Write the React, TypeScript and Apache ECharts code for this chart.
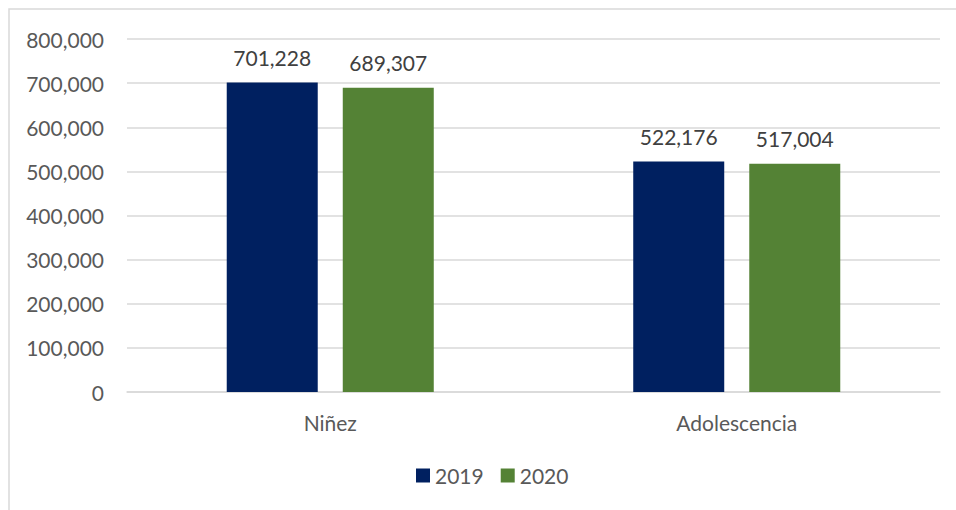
import React, { useEffect, useRef } from "react";
import * as echarts from "echarts";

const categories = ["Niñez", "Adolescencia"];
const seriesNames = ["2019", "2020"];
const values2019 = [701228, 522176];
const values2020 = [689307, 517004];
const colors = ["#002060", "#548235"];

const fmt = (v: number) => v.toLocaleString("en-US");
const FONT = "Lato, 'Open Sans', sans-serif";
const FS = 21;

export default function App() {
  const ref = useRef<HTMLDivElement>(null);
  useEffect(() => {
    if (!ref.current) return;
    const chart = echarts.init(ref.current, undefined, { renderer: "svg" });
    const label = {
      show: true,
      position: "top",
      distance: 15,
      fontSize: FS,
      color: "#404040",
      fontFamily: FONT,
      formatter: (p: any) => fmt(p.value),
    };
    chart.setOption({
      animation: false,
      textStyle: { fontFamily: FONT },
      graphic: [
        {
          type: "rect",
          shape: { x: 9, y: 9, width: 1000, height: 600 },
          style: { fill: "none", stroke: "#d9d9d9", lineWidth: 1.5 },
          silent: true,
        },
      ],
      grid: { left: 127, right: 16, top: 39, bottom: 118 },
      legend: {
        top: 460,
        left: 411,
        itemWidth: 14,
        itemHeight: 14,
        itemGap: 17,
        icon: "rect",
        textStyle: { fontSize: FS, color: "#595959", fontFamily: FONT },
        data: seriesNames,
      },
      xAxis: {
        type: "category",
        data: categories,
        axisLine: { lineStyle: { color: "#d9d9d9", width: 1.5 } },
        axisTick: { show: false },
        axisLabel: { fontSize: FS, color: "#595959", margin: 20, fontFamily: FONT },
      },
      yAxis: {
        type: "value",
        min: 0,
        max: 800000,
        interval: 100000,
        axisLine: { show: false },
        axisTick: { show: false },
        splitLine: { lineStyle: { color: "#d9d9d9", width: 1.5 } },
        axisLabel: { fontSize: FS, color: "#595959", margin: 23, formatter: (v: number) => fmt(v), fontFamily: FONT },
      },
      series: [
        {
          name: seriesNames[0],
          type: "bar",
          data: values2019,
          barWidth: 91,
          barGap: "27.5%",
          itemStyle: { color: colors[0] },
          label,
        },
        {
          name: seriesNames[1],
          type: "bar",
          data: values2020,
          barWidth: 91,
          barGap: "27.5%",
          itemStyle: { color: colors[1] },
          label,
        },
      ],
    });
    return () => chart.dispose();
  }, []);
  return <div ref={ref} style={{ width: 956, height: 510, position: "absolute", left: 0, top: 0 }} />;
}
